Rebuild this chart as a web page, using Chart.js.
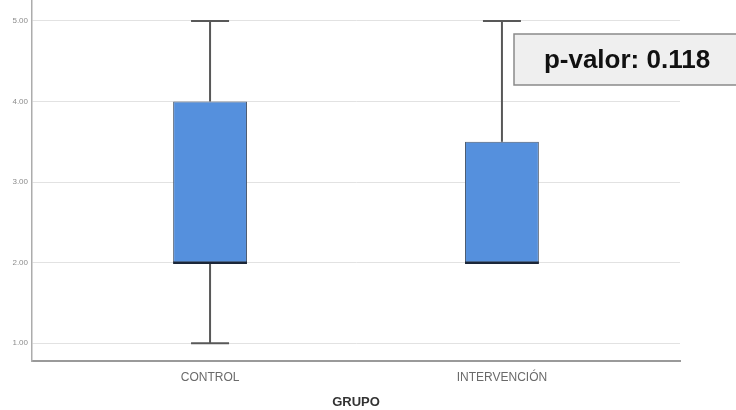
<!DOCTYPE html>
<html lang="es">
<head>
<meta charset="utf-8">
<title>GRUPO – diagrama de caja</title>
<script src="https://cdn.jsdelivr.net/npm/chart.js@4.4.1/dist/chart.umd.min.js"></script>
<style>
  html, body { margin: 0; padding: 0; background: #ffffff; }
  #wrap { width: 736px; height: 410px; }
</style>
</head>
<body>
<div id="wrap"><canvas id="chart" width="736" height="410"></canvas></div>
<script>
// Groups and five-number summaries per group
const categories = ['CONTROL', 'INTERVENCIÓN'];
const minimums   = [1, 2];
const q1Values   = [2, 2];
const medians    = [2, 2];
const q3Values   = [4, 3.5];
const maximums   = [5, 5];
const yTickValues = [1, 2, 3, 4, 5];
const pValueText = 'p-valor: 0.118';
const xTitle = 'GRUPO';

const boxData = categories.map((c, i) => ({ x: i, y: [q1Values[i], q3Values[i]] }));

// Whiskers, caps and medians, positioned through the chart scales
const boxExtras = {
  id: 'boxExtras',
  beforeDatasetsDraw(chart) {
    const { ctx, scales: { x, y } } = chart;
    ctx.save();
    ctx.strokeStyle = '#585858';
    ctx.lineWidth = 2;
    const capHalf = 19;
    categories.forEach((c, i) => {
      const cx = x.getPixelForValue(i);
      const pMin = y.getPixelForValue(minimums[i]);
      const pMax = y.getPixelForValue(maximums[i]);
      const pQ1 = y.getPixelForValue(q1Values[i]);
      const pQ3 = y.getPixelForValue(q3Values[i]);
      ctx.beginPath();
      ctx.moveTo(cx, pQ3); ctx.lineTo(cx, pMax);
      ctx.moveTo(cx, pQ1); ctx.lineTo(cx, pMin);
      ctx.stroke();
      ctx.beginPath();
      ctx.moveTo(cx - capHalf, pMax); ctx.lineTo(cx + capHalf, pMax);
      if (minimums[i] < q1Values[i]) {
        ctx.moveTo(cx - capHalf, pMin); ctx.lineTo(cx + capHalf, pMin);
      }
      ctx.stroke();
    });
    ctx.restore();
  },
  afterDatasetsDraw(chart) {
    const { ctx, scales: { y } } = chart;
    const meta = chart.getDatasetMeta(0);
    ctx.save();
    ctx.strokeStyle = '#1b2638';
    ctx.lineWidth = 2.5;
    meta.data.forEach((bar, i) => {
      const half = bar.width / 2;
      const py = y.getPixelForValue(medians[i]);
      ctx.beginPath();
      ctx.moveTo(bar.x - half, py);
      ctx.lineTo(bar.x + half, py);
      ctx.stroke();
    });
    ctx.restore();
  },
  afterDraw(chart) {
    const { ctx } = chart;
    ctx.save();
    // p-value annotation box
    ctx.fillStyle = '#efefef';
    ctx.fillRect(514, 34, 230, 51);
    ctx.strokeStyle = '#8a8a8a';
    ctx.lineWidth = 1.5;
    ctx.strokeRect(514, 34, 230, 51);
    ctx.fillStyle = '#111111';
    ctx.font = 'bold 26px "Liberation Sans", Arial, sans-serif';
    ctx.textAlign = 'center';
    ctx.textBaseline = 'middle';
    ctx.fillText(pValueText, 627, 61);
    ctx.restore();
  }
};

new Chart(document.getElementById('chart'), {
  type: 'bar',
  data: {
    datasets: [{
      data: boxData,
      backgroundColor: '#5590dd',
      borderColor: '#4a5a70',
      borderWidth: 1,
      borderSkipped: false,
      categoryPercentage: 1,
      barPercentage: 0.253
    }]
  },
  options: {
    responsive: false,
    animation: false,
    layout: { padding: { top: 0, right: 56, bottom: 0, left: 0 } },
    plugins: {
      legend: { display: false },
      tooltip: { enabled: false }
    },
    scales: {
      x: {
        type: 'linear',
        offset: false,
        min: -0.61,
        max: 1.61,
        afterBuildTicks(scale) {
          scale.ticks = categories.map((c, i) => ({ value: i }));
        },
        afterFit(scale) {
          scale.height = 49;
          scale.paddingLeft = 0;
          scale.paddingRight = 0;
        },
        grid: { display: false, drawTicks: false },
        border: { display: true, color: '#9a9a9a', width: 2 },
        ticks: {
          padding: 9,
          autoSkip: false,
          maxRotation: 0,
          color: '#6a6a6a',
          font: { family: '"Liberation Sans", Arial, sans-serif', size: 12 },
          callback: (v) => categories[v]
        },
        title: {
          display: true,
          text: xTitle,
          color: '#333333',
          padding: { top: 10, bottom: 0 },
          font: { family: '"Liberation Sans", Arial, sans-serif', size: 13, weight: 'bold' }
        }
      },
      y: {
        min: 0.78,
        max: 5.26,
        afterBuildTicks(scale) {
          scale.ticks = yTickValues.map(v => ({ value: v }));
        },
        afterFit(scale) {
          scale.width = 32;
          scale.paddingTop = 0;
          scale.paddingBottom = 0;
        },
        grid: { color: '#e2e2e2', lineWidth: 1, drawTicks: false },
        border: { display: true, color: '#acacac', width: 1.5 },
        ticks: {
          padding: 4,
          color: '#8c8c8c',
          font: { family: '"Liberation Sans", Arial, sans-serif', size: 8 },
          callback: (v) => v.toFixed(2)
        }
      }
    }
  },
  plugins: [boxExtras]
});
</script>
</body>
</html>
